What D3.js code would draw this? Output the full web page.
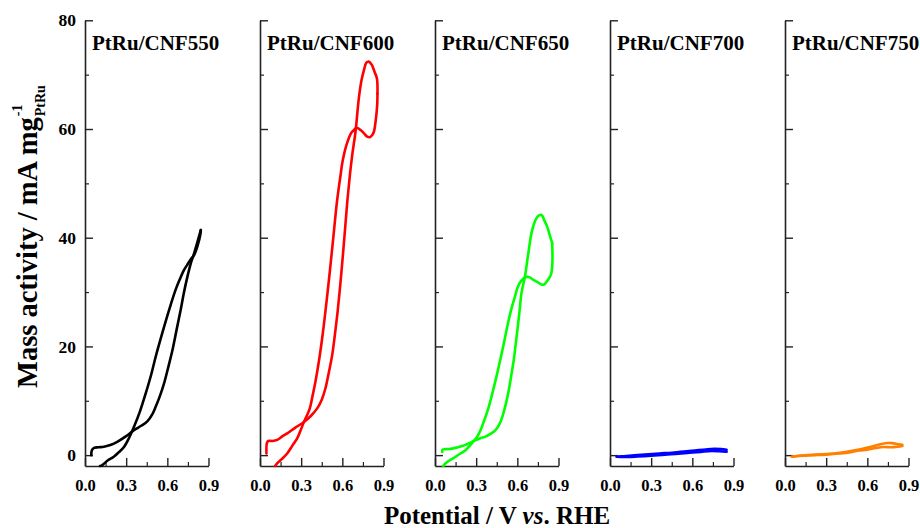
<!DOCTYPE html>
<html>
<head>
<meta charset="utf-8">
<script src="https://cdn.jsdelivr.net/npm/d3@7"></script>
<style>
  html, body { margin: 0; padding: 0; background: #fff; }
  svg { display: block; }
  text { font-family: "Liberation Serif", "Times New Roman", serif; font-weight: bold; fill: #000; }
</style>
</head>
<body>
<svg id="chart" width="920" height="528"></svg>
<script>
// ---- data (Potential V vs RHE, mass activity mA mg-1) ----
const panelNames = ["PtRu/CNF550", "PtRu/CNF600", "PtRu/CNF650", "PtRu/CNF700", "PtRu/CNF750"];
const panelColors = ["#000000", "#ff0000", "#00ff00", "#0000ff", "#ff8000"];

const fwd550 = [[0.046,0],[0.05,0.9],[0.066,1.35],[0.1,1.45],[0.138,1.55],[0.19,1.9],[0.235,2.45],[0.3,3.5],[0.357,4.6],[0.41,5.4],[0.454,6.2],[0.49,7.5],[0.515,8.9],[0.545,10.8],[0.576,13.2],[0.607,16.2],[0.637,19.3],[0.667,23],[0.697,26.7],[0.72,29.8],[0.746,32.8],[0.77,35.2],[0.795,37.1],[0.82,39.3],[0.844,41.4]];
const bwd550 = [[0.844,41.4],[0.84,40.5],[0.82,38.5],[0.795,36.8],[0.77,36],[0.745,35],[0.72,34],[0.69,32.3],[0.66,30.4],[0.625,27.7],[0.59,24.8],[0.55,21.3],[0.515,18.1],[0.48,14.6],[0.443,11.4],[0.4,8],[0.357,5.2],[0.32,3.1],[0.284,1.5],[0.245,0.5],[0.21,-0.3],[0.165,-1.0],[0.126,-1.84],[0.11,-2]];

const fwd600 = [[0.047,0.3],[0.05,2.2],[0.06,2.6],[0.09,2.6],[0.125,2.8],[0.16,3.4],[0.198,4.0],[0.26,5.1],[0.32,6.1],[0.37,7.2],[0.417,8.6],[0.45,10.2],[0.477,12.3],[0.5,15],[0.526,18.4],[0.545,22],[0.563,25.8],[0.58,30],[0.6,35.6],[0.618,41],[0.636,46.6],[0.655,51.5],[0.672,55.2],[0.696,59.5],[0.72,65.6],[0.74,69],[0.757,70.8],[0.775,72.2],[0.793,72.4],[0.815,71.8],[0.835,70.5],[0.852,69.3],[0.856,66.5]];
const bwd600 = [[0.856,66.5],[0.854,64.4],[0.842,61.3],[0.83,59.5],[0.818,58.9],[0.8,58.5],[0.781,58.6],[0.755,59.3],[0.733,59.8],[0.71,60.2],[0.696,60.1],[0.68,59.7],[0.663,59.2],[0.647,58.3],[0.628,56.9],[0.611,55.2],[0.598,53.5],[0.587,51.5],[0.572,48.8],[0.558,46],[0.542,42],[0.526,38],[0.508,33.6],[0.49,29.4],[0.472,25.4],[0.453,21.5],[0.43,17.4],[0.404,13.5],[0.383,10.9],[0.363,8.6],[0.34,7.2],[0.32,6.1],[0.295,4.5],[0.271,3.1],[0.235,1.7],[0.198,0.3],[0.16,-0.7],[0.125,-1.5],[0.11,-2]];

const fwd650 = [[0.053,0.6],[0.055,1.0],[0.08,1.1],[0.125,1.2],[0.198,1.66],[0.24,2.1],[0.283,2.6],[0.33,3.1],[0.368,3.4],[0.41,4.0],[0.441,4.6],[0.468,5.6],[0.49,7.0],[0.515,9.3],[0.538,12],[0.556,14.7],[0.574,17.5],[0.59,20.8],[0.606,24.2],[0.618,27],[0.63,29.8],[0.655,32.8],[0.68,37.1],[0.708,41.4],[0.74,43.6],[0.758,44.1],[0.776,44.2],[0.8,43],[0.818,42.0],[0.836,40.5],[0.854,39]];
const bwd650 = [[0.854,39],[0.856,36.5],[0.854,34.7],[0.845,33.2],[0.83,32.5],[0.81,31.8],[0.795,31.4],[0.776,31.4],[0.75,31.8],[0.72,32.2],[0.69,32.7],[0.665,32.8],[0.645,32.5],[0.623,31.9],[0.6,30.7],[0.582,29.1],[0.562,27.4],[0.543,25.5],[0.522,23.1],[0.502,20.6],[0.478,17.8],[0.453,15.0],[0.42,11.6],[0.392,8.9],[0.36,6.5],[0.332,4.6],[0.305,3.3],[0.283,2.6],[0.255,1.8],[0.223,0.9],[0.185,0.3],[0.15,-0.3],[0.11,-0.9],[0.077,-1.5],[0.06,-2]];

const fwd700 = [[0.049,-0.3],[0.1,-0.2],[0.2,0],[0.28,0.15],[0.36,0.3],[0.45,0.45],[0.54,0.65],[0.62,0.85],[0.7,1.05],[0.76,1.15],[0.81,1.1],[0.85,1.0]];
const bwd700 = [[0.85,0.65],[0.8,0.7],[0.74,0.75],[0.66,0.6],[0.58,0.45],[0.5,0.25],[0.4,0.1],[0.3,-0.1],[0.2,-0.25],[0.1,-0.35],[0.049,-0.3]];

const fwd750 = [[0.05,-0.3],[0.1,-0.1],[0.2,0.05],[0.3,0.2],[0.4,0.45],[0.48,0.75],[0.55,1.1],[0.62,1.5],[0.68,1.9],[0.73,2.2],[0.78,2.2],[0.83,2.0],[0.855,1.9]];
const bwd750 = [[0.855,1.7],[0.82,1.55],[0.77,1.45],[0.72,1.5],[0.66,1.3],[0.6,1.0],[0.54,0.85],[0.48,0.55],[0.4,0.3],[0.3,0.1],[0.2,0],[0.1,-0.15],[0.05,-0.3]];

const panelCurves = [[fwd550, bwd550],[fwd600, bwd600],[fwd650, bwd650],[fwd700, bwd700],[fwd750, bwd750]];

const xMajorTicks = [0, 0.3, 0.6, 0.9];
const xMinorTicks = [0.15, 0.45, 0.75];
const yMajorTicks = [0, 20, 40, 60, 80];
const yMinorTicks = [10, 30, 50, 70];
const xDomain = [0, 0.9];
const yDomain = [-2, 80];

// ---- layout ----
const svg = d3.select("#chart");
const firstLeft = 85, panelStep = 175, panelWidth = 123.5;
const plotTop = 20.3, plotBottom = 466;
const axisColor = "#222";
const fontFam = '"Liberation Serif","Times New Roman",serif';

const y = d3.scaleLinear().domain(yDomain).range([plotBottom, plotTop]);

panelNames.forEach((name, i) => {
  const left = firstLeft + i * panelStep;
  const x = d3.scaleLinear().domain(xDomain).range([left, left + panelWidth]);
  const g = svg.append("g");

  // y axis (major ticks inward)
  const yAxis = d3.axisLeft(y).tickValues(yMajorTicks).tickSize(-8).tickSizeOuter(0).tickPadding(9)
    .tickFormat(i === 0 ? d3.format("d") : () => "");
  const ya = g.append("g").attr("transform", `translate(${left},0)`).call(yAxis);
  ya.select(".domain").attr("stroke", axisColor).attr("stroke-width", 1.6);
  ya.selectAll(".tick line").attr("stroke", axisColor).attr("stroke-width", 1.4);
  ya.selectAll(".tick text").style("font-size", "17.5px").style("font-family", fontFam).style("font-weight", "bold").attr("fill", "#000");
  const yMinor = d3.axisLeft(y).tickValues(yMinorTicks).tickSize(-4).tickSizeOuter(0).tickFormat(() => "");
  const ym = g.append("g").attr("transform", `translate(${left},0)`).call(yMinor);
  ym.select(".domain").remove();
  ym.selectAll(".tick line").attr("stroke", axisColor).attr("stroke-width", 1.2);

  // x axis (ticks inward)
  const xAxis = d3.axisBottom(x).tickValues(xMajorTicks).tickSize(-8).tickSizeOuter(0).tickPadding(13)
    .tickFormat(d3.format(".1f"));
  const xa = g.append("g").attr("transform", `translate(0,${plotBottom})`).call(xAxis);
  xa.select(".domain").attr("stroke", axisColor).attr("stroke-width", 1.6);
  xa.selectAll(".tick line").attr("stroke", axisColor).attr("stroke-width", 1.4);
  xa.selectAll(".tick text").style("font-size", "16.5px").style("font-family", fontFam).style("font-weight", "bold").attr("fill", "#000");
  const xMinor = d3.axisBottom(x).tickValues(xMinorTicks).tickSize(-4).tickSizeOuter(0).tickFormat(() => "");
  const xm = g.append("g").attr("transform", `translate(0,${plotBottom})`).call(xMinor);
  xm.select(".domain").remove();
  xm.selectAll(".tick line").attr("stroke", axisColor).attr("stroke-width", 1.2);

  // curves
  const line = d3.line().x(d => x(d[0])).y(d => y(d[1])).curve(d3.curveCatmullRom.alpha(0.5));
  panelCurves[i].forEach(seg => {
    g.append("path").attr("d", line(seg)).attr("fill", "none")
      .attr("stroke", panelColors[i]).attr("stroke-width", 2.6)
      .attr("stroke-linejoin", "round").attr("stroke-linecap", "round");
  });

  // panel title
  g.append("text").attr("x", left + 7).attr("y", 50).style("font-size", "21px").text(name);
});

// x axis title
const xt = svg.append("text").attr("x", 497).attr("y", 524).attr("text-anchor", "middle").style("font-size", "25px");
xt.append("tspan").text("Potential / V ");
xt.append("tspan").style("font-style", "italic").text("vs");
xt.append("tspan").text(". RHE");

// y axis title (rotated)
const yg = svg.append("g").attr("transform", "rotate(-90)");
const yMain = yg.append("text").attr("x", -388).attr("y", 37).style("font-size", "28.5px").text("Mass activity / mA mg");
const L = yMain.node().getComputedTextLength();
yg.append("text").attr("x", -388 + L + 1).attr("y", 22).style("font-size", "14px").text("-1");
yg.append("text").attr("x", -388 + L + 1).attr("y", 45).style("font-size", "14px").text("PtRu");
</script>
</body>
</html>
